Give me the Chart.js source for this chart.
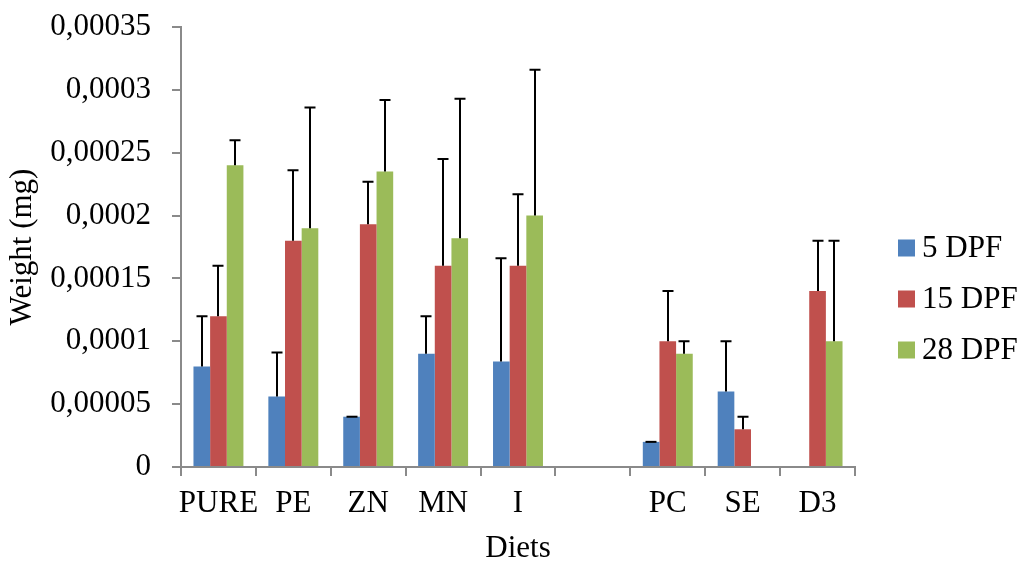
<!DOCTYPE html>
<html>
<head>
<meta charset="utf-8">
<script src="https://cdn.jsdelivr.net/npm/chart.js@4/dist/chart.umd.min.js"></script>
<style>
  html, body { margin: 0; padding: 0; background: #fff; }
  #wrap { width: 1024px; height: 564px; position: relative; }
</style>
</head>
<body>
<div id="wrap"><canvas id="c"></canvas></div>
<script>
// ---- data ----
const categories = ['PURE', 'PE', 'ZN', 'MN', 'I', '', 'PC', 'SE', 'D3'];
const seriesNames = ['5 DPF', '15 DPF', '28 DPF'];
const dpf5  = [0.00008, 0.000056, 0.00004, 0.00009, 0.000084, null, 0.00002, 0.00006, null];
const dpf15 = [0.00012, 0.00018, 0.000193, 0.00016, 0.00016, null, 0.0001, 0.00003, 0.00014];
const dpf28 = [0.00024, 0.00019, 0.000235, 0.000182, 0.0002, null, 0.00009, null, 0.0001];
const err5  = [0.00004, 0.000035, 0, 0.00003, 0.000082, null, 0, 0.00004, null];
const err15 = [0.00004, 0.000056, 0.000034, 0.000085, 0.000057, null, 0.00004, 0.00001, 0.00004];
const err28 = [0.00002, 0.000096, 0.000057, 0.000111, 0.000116, null, 0.00001, null, 0.00008];
const yTickLabels = ['0', '0,00005', '0,0001', '0,00015', '0,0002', '0,00025', '0,0003', '0,00035'];

const colors = ['#4F81BD', '#C0504D', '#9BBB59'];
const values = [dpf5, dpf15, dpf28];
const errors = [err5, err15, err28];
const FONT = "'Liberation Serif', 'Times New Roman', serif";
const AXIS = '#8A8A8A';

const errorBars = {
  id: 'errorBars',
  afterDatasetsDraw(chart) {
    const ctx = chart.ctx;
    const y = chart.scales.y;
    ctx.save();
    ctx.strokeStyle = '#000';
    ctx.lineWidth = 2;
    chart.data.datasets.forEach((ds, di) => {
      const meta = chart.getDatasetMeta(di);
      meta.data.forEach((bar, i) => {
        const v = ds.data[i];
        const e = ds.errPlus[i];
        if (v === null || e === null || e === undefined) return;
        const top = y.getPixelForValue(v + e);
        const x = Math.round(bar.x);
        ctx.beginPath();
        ctx.moveTo(x, bar.y);
        ctx.lineTo(x, top);
        ctx.moveTo(x - 5.5, top);
        ctx.lineTo(x + 5.5, top);
        ctx.stroke();
      });
    });
    ctx.restore();
  }
};

const customLegend = {
  id: 'customLegend',
  afterDraw(chart) {
    const ctx = chart.ctx;
    ctx.save();
    ctx.font = '31px ' + FONT;
    ctx.textBaseline = 'middle';
    ctx.textAlign = 'left';
    chart.data.datasets.forEach((ds, i) => {
      const cy = 248 + i * 51;
      ctx.fillStyle = ds.backgroundColor;
      ctx.fillRect(898, cy - 8.5, 17, 17);
      ctx.fillStyle = '#000';
      ctx.fillText(ds.label, 922, cy + 1);
    });
    ctx.restore();
  }
};

new Chart(document.getElementById('c'), {
  type: 'bar',
  data: {
    labels: categories,
    datasets: seriesNames.map((name, i) => ({
      label: name,
      data: values[i],
      errPlus: errors[i],
      backgroundColor: colors[i],
      categoryPercentage: 0.667,
      barPercentage: 1.0
    }))
  },
  options: {
    responsive: true,
    maintainAspectRatio: false,
    animation: false,
    layout: { padding: { top: 27, right: 169, bottom: 0, left: 0 } },
    plugins: {
      legend: { display: false },
      tooltip: { enabled: false }
    },
    scales: {
      x: {
        grid: { display: true, drawOnChartArea: false, drawTicks: true, tickLength: 9, color: AXIS, lineWidth: 2, offset: true },
        border: { display: true, color: AXIS, width: 2 },
        ticks: { color: '#000', font: { family: FONT, size: 31 }, padding: 9, maxRotation: 0, autoSkip: false },
        title: { display: true, text: 'Diets', color: '#000', font: { family: FONT, size: 31, lineHeight: 1 }, padding: { top: 0, bottom: 0 } },
        afterFit(scale) { scale.height = 97; }
      },
      y: {
        min: 0,
        max: 0.00035,
        grid: { display: true, drawOnChartArea: false, drawTicks: true, tickLength: 9, color: AXIS, lineWidth: 2 },
        border: { display: true, color: AXIS, width: 2 },
        ticks: {
          stepSize: 0.00005,
          color: '#000',
          font: { family: FONT, size: 31 },
          padding: 21,
          callback: (v, i) => yTickLabels[i]
        },
        title: { display: true, text: 'Weight (mg)', color: '#000', font: { family: FONT, size: 31, lineHeight: 1 }, padding: { top: 7.5, bottom: 0 } },
        afterFit(scale) { scale.width = 181; scale.paddingTop = 0; scale.paddingBottom = 0; }
      }
    }
  },
  plugins: [errorBars, customLegend]
});
</script>
</body>
</html>
